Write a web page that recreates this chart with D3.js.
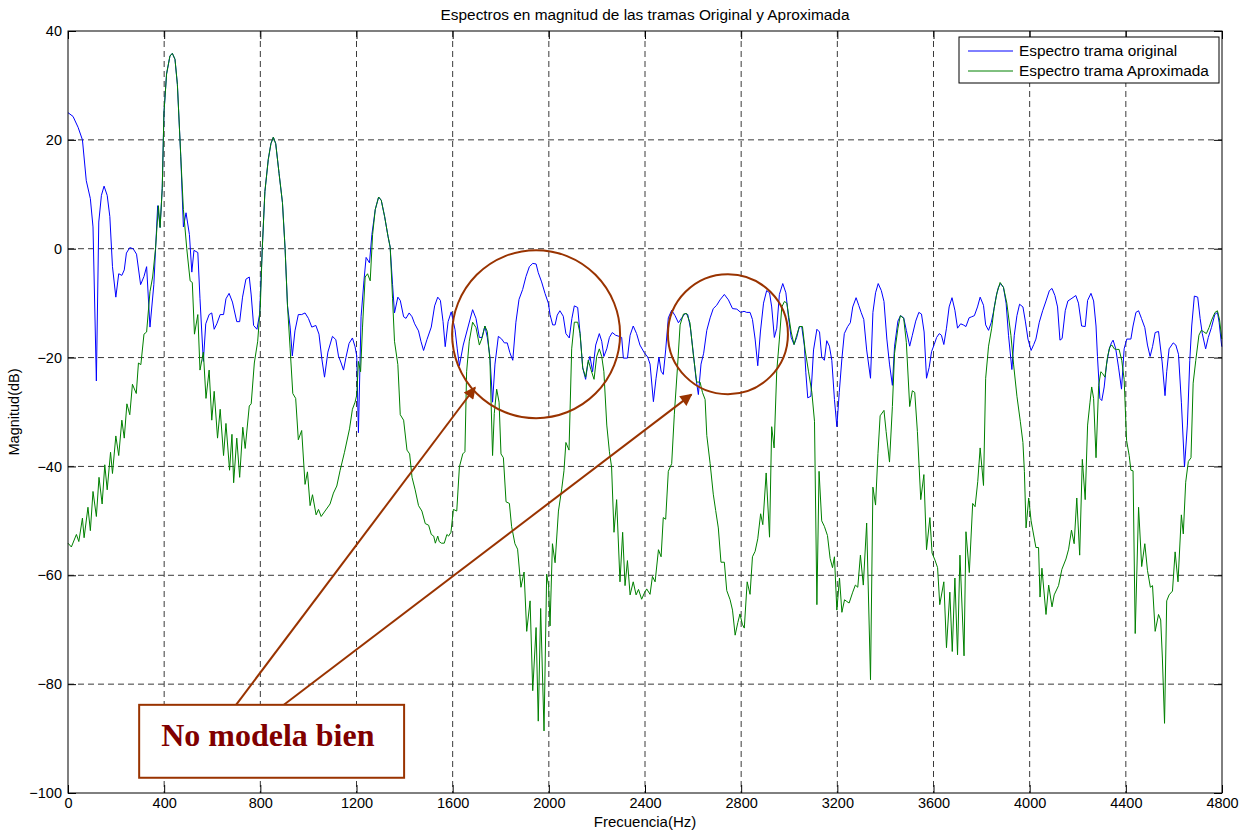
<!DOCTYPE html>
<html>
<head>
<meta charset="utf-8">
<script src="https://cdn.jsdelivr.net/npm/d3@7"></script>
<style>
  body { margin: 0; background: #fff; }
</style>
</head>
<body>
<div id="chart"></div>
<script>
let w = 1250;
let h = 832;
let margin = {left: 68, right: 28, top: 31, bottom: 39};

// tick labels
let xTicks = [0, 400, 800, 1200, 1600, 2000, 2400, 2800, 3200, 3600, 4000, 4400, 4800];
let yTicks = [40, 20, 0, -20, -40, -60, -80, -100];

// [frecuencia Hz, magnitud dB]
let original = [
  [0,25],[21,24.3],[42,22.3],[60,20],[76,12.5],[93,9.2],[104,4],[118,-24.3],[128,4.9],[139,9.8],
  [150,11.5],[163,9.8],[174,5.9],[185,-3.3],[199,-8.9],[211,-4.6],[224,-4.9],[234,-3.9],[243,-0.8],[257,0.2],
  [271,0],[285,-1],[302,-6.6],[316,-5.1],[327,-3.3],[341,-14.4],[357,-6.6],[373,7.9],[383,3.9],[392,11.1],
  [399,24.9],[410,32.1],[424,35.4],[434,35.9],[445,34.8],[455,30.2],[469,17],[480,4],[491,6.6],[505,2.6],
  [515,-4.3],[524,-0.3],[540,-0.7],[549,-9.2],[563,-20.7],[573,-13.8],[587,-12.1],[598,-11.8],[608,-14.8],[619,-13.8],
  [633,-12.1],[647,-12.1],[657,-9.2],[670,-8.2],[684,-9.8],[702,-13.4],[714,-13.4],[726,-8.9],[740,-5.6],[754,-5.2],
  [762,-8.5],[772,-14.1],[786,-14.8],[797,-12],[808,0],[819,10.5],[833,16.4],[844,19.3],[854,20.5],[864,19.3],
  [878,13.8],[892,8.5],[903,0],[913,-10.5],[924,-14.4],[933,-19.7],[944,-15.1],[958,-12.1],[972,-12.1],[986,-11.8],
  [1000,-12.8],[1014,-14.4],[1031,-14.1],[1044,-15.7],[1056,-20.3],[1067,-23.6],[1081,-19],[1100,-16.1],[1114,-16.7],[1125,-19.7],
  [1136,-21],[1146,-22.3],[1156,-20],[1169,-17.4],[1183,-16.4],[1194,-18],[1201,-19.7],[1208,-33.8],[1219,-12.5],[1231,-5.9],
  [1240,-1.6],[1254,-2.6],[1264,2.6],[1278,7.2],[1292,9.5],[1303,8.9],[1317,5.9],[1331,2.3],[1340,0.3],[1350,-6.6],
  [1358,-11.8],[1372,-8.9],[1382,-9.5],[1396,-12.5],[1406,-12.8],[1419,-11.8],[1431,-12.5],[1442,-13.8],[1458,-15.1],[1468,-17],
  [1479,-18.7],[1493,-16.7],[1511,-14.4],[1525,-10.5],[1538,-8.9],[1549,-9.5],[1560,-13.4],[1569,-18],[1581,-13.4],[1594,-11.6],
  [1610,-14.9],[1619,-18.4],[1628,-21.5],[1644,-17.7],[1665,-14.2],[1683,-11.2],[1697,-12.8],[1711,-16.3],[1722,-16.3],[1734,-14.2],
  [1744,-16.3],[1755,-19.8],[1766,-28.2],[1776,-21.2],[1790,-16.1],[1804,-16.6],[1815,-17.3],[1827,-17.3],[1838,-19.1],[1850,-20.5],
  [1863,-13.5],[1876,-9.3],[1891,-7.5],[1905,-5.1],[1919,-3.3],[1933,-2.7],[1947,-2.8],[1956,-4.4],[1970,-6.1],[1984,-8.2],
  [1998,-10],[2005,-12.1],[2016,-14],[2026,-14],[2035,-12.2],[2046,-11.4],[2060,-12.4],[2071,-15.6],[2085,-16.4],[2096,-12.8],
  [2106,-10.5],[2120,-10.8],[2130,-15.6],[2141,-21.9],[2153,-24],[2162,-21.2],[2171,-19.8],[2182,-22.6],[2195,-17.7],[2210,-15.6],
  [2220,-17],[2229,-19.8],[2241,-18.4],[2252,-16.3],[2264,-15.4],[2278,-15.9],[2292,-16.1],[2303,-16.3],[2310,-20.1],[2327,-20.1],
  [2338,-15.9],[2351,-14.2],[2365,-15.6],[2379,-17.7],[2397,-19.1],[2411,-19.9],[2421,-21.2],[2435,-28.1],[2446,-23.8],[2458,-19.9],
  [2467,-22.5],[2476,-23.1],[2486,-18.6],[2497,-12.7],[2511,-11.3],[2525,-12.3],[2539,-13.6],[2553,-12.7],[2567,-11.9],[2578,-12.1],
  [2589,-14.6],[2601,-19.2],[2612,-23.8],[2622,-26.8],[2633,-21.2],[2644,-19.2],[2657,-15],[2671,-12.7],[2684,-11],[2698,-10.4],
  [2712,-9.4],[2730,-8.4],[2747,-9.4],[2764,-11],[2782,-11.1],[2798,-11.7],[2812,-11.5],[2823,-11.7],[2837,-11.7],[2847,-13],
  [2858,-16.6],[2869,-21.5],[2880,-15.3],[2893,-10],[2906,-7.7],[2918,-8.1],[2927,-10.7],[2938,-16.3],[2948,-14.6],[2959,-8.4],
  [2973,-6.4],[2986,-8.1],[2997,-12.7],[3008,-16.3],[3020,-17.6],[3031,-16.3],[3042,-14.3],[3052,-14.3],[3063,-17.9],[3069,-22.8],
  [3077,-27.4],[3090,-27.1],[3101,-18.6],[3115,-14.8],[3126,-15.3],[3135,-19.9],[3146,-20.5],[3156,-16.9],[3167,-17.9],[3177,-20.5],
  [3188,-27.7],[3198,-32.7],[3208,-26.4],[3219,-20.2],[3229,-15.6],[3243,-14.3],[3254,-13.6],[3264,-10.7],[3278,-9],[3289,-10.4],
  [3299,-11.7],[3310,-13],[3322,-18.6],[3338,-23.8],[3348,-11.7],[3359,-8.1],[3370,-6.4],[3383,-7.7],[3394,-9.7],[3406,-16.6],
  [3417,-21.2],[3429,-25.1],[3438,-17.9],[3452,-13.3],[3463,-12.3],[3476,-12.7],[3487,-15],[3501,-17.9],[3512,-15.9],[3526,-13.3],
  [3539,-11.7],[3550,-12],[3561,-15.3],[3571,-23.8],[3582,-21.8],[3592,-18.9],[3603,-17.6],[3613,-16.3],[3624,-15.6],[3633,-15.9],
  [3643,-17.6],[3654,-14.6],[3665,-10.7],[3677,-9],[3689,-11.3],[3700,-14.6],[3713,-13.8],[3724,-14],[3735,-14.3],[3748,-12.7],
  [3759,-12.5],[3770,-12.3],[3783,-10.7],[3794,-8.9],[3808,-10.4],[3817,-14],[3829,-15],[3840,-13.6],[3849,-11.7],[3861,-8.7],
  [3870,-7.1],[3879,-6.4],[3891,-7.1],[3902,-10],[3912,-15.9],[3926,-22.2],[3936,-15.9],[3947,-12.3],[3958,-10.2],[3972,-10.7],
  [3982,-13.3],[3993,-16.6],[4006,-18.7],[4017,-17.6],[4026,-16.6],[4040,-13.5],[4054,-11.4],[4068,-9.6],[4082,-7.7],[4093,-7.3],
  [4105,-8.6],[4116,-10.7],[4126,-16.8],[4135,-16.5],[4148,-11.4],[4159,-9.6],[4176,-9.1],[4192,-8.6],[4203,-10],[4216,-14.2],
  [4231,-14.3],[4241,-9.5],[4255,-8.2],[4266,-9.6],[4276,-14.2],[4282,-19.8],[4292,-27.5],[4300,-27.9],[4310,-25.4],[4320,-21.2],
  [4331,-18.4],[4340,-17.3],[4347,-16.8],[4358,-18.4],[4370,-21.9],[4382,-25.8],[4393,-18.4],[4404,-16.6],[4421,-16.6],[4430,-14.2],
  [4442,-11.7],[4453,-11.4],[4465,-12.8],[4479,-14.5],[4490,-17.7],[4501,-19.8],[4511,-18],[4522,-15.4],[4536,-15.2],[4551,-20.8],
  [4563,-27],[4570,-22.6],[4580,-18.4],[4597,-17.3],[4608,-17.7],[4619,-19.4],[4631,-28.2],[4644,-40.1],[4656,-32.4],[4666,-20.5],
  [4674,-14.2],[4685,-8.7],[4699,-8.9],[4709,-12.8],[4718,-15.6],[4732,-18.4],[4743,-16.3],[4756,-14.5],[4770,-12.1],[4781,-11.7],
  [4788,-13.5],[4799,-18]
];

let aproximada = [
  [0,-54.1],[14,-54.8],[35,-52.5],[45,-53.8],[60,-49.5],[67,-53.1],[83,-47.5],[93,-51.8],[104,-44.6],[118,-49.2],
  [129,-42],[142,-46.9],[153,-39.7],[163,-44.3],[177,-37.4],[185,-41.3],[199,-34.4],[211,-38],[224,-31.5],[234,-34.8],
  [245,-28.5],[257,-30.5],[268,-24.9],[284,-26.6],[293,-21],[303,-21.3],[316,-15.7],[327,-15.3],[341,-7.9],[352,-5.2],
  [364,0],[376,7.9],[383,3.9],[392,11.1],[399,24.9],[410,32.1],[424,35.4],[434,35.9],[445,34.8],[455,30.2],
  [469,17],[480,7.2],[494,0],[508,-5.9],[517,-6.2],[526,-15.7],[540,-12.1],[549,-22.3],[563,-19],[574,-27.5],
  [587,-22.3],[598,-31.5],[608,-26.2],[622,-34.8],[633,-29.5],[647,-38],[657,-32.1],[672,-40.7],[682,-34.1],[689,-43],
  [702,-34.8],[714,-42],[727,-32.8],[737,-36.7],[754,-28.9],[762,-28.5],[775,-21],[789,-17],[800,-10.5],[808,0],
  [819,10.5],[833,16.4],[844,19.3],[854,20.5],[864,19.3],[878,13.8],[892,8.5],[903,0],[913,-10.5],[924,-18.4],
  [935,-26.6],[947,-27.5],[958,-35.1],[972,-33.4],[986,-43.3],[996,-41],[1007,-47.2],[1017,-45.2],[1032,-48.9],[1042,-47.9],
  [1053,-49.2],[1069,-48.2],[1090,-46.9],[1104,-44.9],[1118,-43.6],[1132,-40.7],[1150,-37.4],[1171,-33.1],[1183,-29.5],[1194,-28.2],
  [1201,-26.9],[1208,-20.7],[1217,-22.6],[1225,-14.4],[1236,-5.2],[1246,-4.6],[1257,-5.9],[1267,2.6],[1278,7.2],[1292,9.5],
  [1303,8.9],[1317,5.9],[1331,2.3],[1340,0.3],[1350,-9.2],[1358,-17],[1372,-21.3],[1382,-30.5],[1396,-31.5],[1410,-37],
  [1421,-37.7],[1431,-42],[1444,-44.3],[1458,-47.2],[1472,-48.2],[1486,-50.5],[1500,-50.8],[1511,-52.5],[1521,-52.8],[1528,-54.1],
  [1538,-52.8],[1544,-53.8],[1553,-54.1],[1565,-54.1],[1576,-52.5],[1583,-52.8],[1593,-52.1],[1603,-47.9],[1617,-48.2],[1628,-40.1],
  [1642,-37.7],[1651,-37.3],[1658,-22.6],[1669,-17],[1683,-13.5],[1697,-14.5],[1711,-17.7],[1723,-16.3],[1734,-14.2],[1744,-15.2],
  [1755,-20.5],[1766,-38],[1773,-30.3],[1783,-25.8],[1793,-28.2],[1801,-37.7],[1811,-38.4],[1822,-46.5],[1836,-46.8],[1845,-51],
  [1859,-54.2],[1870,-55.2],[1884,-62.2],[1897,-59.4],[1908,-70.3],[1922,-64.7],[1933,-81.2],[1947,-69.6],[1956,-86.8],[1966,-66.1],
  [1980,-88.6],[1991,-59.8],[1999,-61.9],[2005,-69.3],[2015,-54.2],[2026,-57.7],[2040,-48.2],[2054,-44],[2063,-40.8],[2071,-35.6],
  [2084,-37],[2095,-18.4],[2106,-13.5],[2120,-13.5],[2130,-15.6],[2141,-21.9],[2153,-23.6],[2164,-20.5],[2175,-22.2],[2188,-24],
  [2199,-19.8],[2210,-18.4],[2220,-19.8],[2229,-22.6],[2241,-32.4],[2252,-37.3],[2261,-40.1],[2271,-52.1],[2282,-46.1],[2296,-61.2],
  [2307,-52.1],[2317,-61.9],[2327,-57.3],[2338,-63.6],[2351,-61.2],[2363,-63.6],[2373,-62.6],[2386,-64.4],[2397,-63.3],[2407,-62.5],
  [2421,-63.5],[2431,-60.2],[2442,-61.2],[2456,-55.3],[2467,-56.6],[2476,-49.4],[2486,-49.7],[2497,-40.9],[2511,-39.5],[2522,-30.4],
  [2536,-21.2],[2546,-14],[2560,-12],[2573,-11.9],[2587,-13.6],[2601,-19.5],[2615,-24.5],[2629,-24.5],[2639,-26.4],[2650,-27.7],
  [2657,-34.3],[2671,-39.5],[2684,-45.1],[2694,-48.1],[2705,-51.3],[2716,-57.6],[2730,-57.6],[2740,-62.8],[2754,-64.5],[2764,-66.4],
  [2775,-71],[2786,-68.7],[2795,-67.1],[2805,-69],[2813,-69.7],[2825,-61.2],[2837,-63.5],[2847,-56.6],[2858,-55.6],[2869,-53.3],
  [2881,-48.7],[2890,-50.7],[2904,-41.2],[2918,-53],[2927,-32.7],[2937,-36.6],[2948,-22.5],[2959,-16.6],[2969,-10.7],[2980,-9.7],
  [2990,-10],[2999,-12.7],[3008,-15.3],[3020,-17.6],[3031,-15.9],[3042,-14.3],[3055,-14.3],[3066,-18.6],[3080,-22.5],[3094,-26.4],
  [3105,-31.7],[3115,-65.4],[3124,-40.9],[3135,-50],[3146,-51],[3159,-52.7],[3170,-56.9],[3180,-58.6],[3188,-56.6],[3198,-66.4],
  [3209,-60.5],[3219,-66.8],[3230,-64.5],[3239,-64.8],[3249,-65.1],[3264,-63.1],[3275,-61.8],[3285,-62.2],[3296,-56.3],[3308,-61.8],
  [3322,-50.4],[3338,-79.2],[3348,-43.8],[3359,-47.1],[3369,-37.6],[3378,-30.7],[3394,-29.7],[3403,-33.6],[3417,-39.2],[3429,-29],
  [3438,-19.2],[3452,-14.6],[3462,-12.3],[3476,-12.8],[3487,-17.2],[3501,-29],[3512,-26.1],[3522,-26.4],[3533,-33.6],[3547,-46.1],
  [3560,-41.5],[3571,-55.3],[3585,-49.4],[3594,-55.9],[3606,-57.2],[3617,-58.6],[3626,-65.4],[3643,-61.2],[3654,-73.3],[3668,-63.1],
  [3678,-74],[3689,-60.5],[3700,-74.6],[3710,-56.3],[3727,-74.8],[3735,-52],[3749,-59.5],[3763,-46.8],[3773,-47.4],[3784,-42.8],
  [3794,-36.6],[3808,-43.5],[3817,-23.8],[3829,-17.9],[3842,-14.6],[3852,-11],[3864,-8.1],[3877,-6.2],[3891,-7.1],[3905,-10],
  [3922,-15.9],[3933,-21.2],[3947,-27.1],[3961,-31.7],[3972,-35.6],[3978,-40.9],[3985,-51.3],[3996,-45.8],[4006,-50],[4026,-54.9],
  [4037,-54.9],[4043,-64],[4051,-58.7],[4068,-67.2],[4079,-61.8],[4093,-65.8],[4102,-63.6],[4120,-61.9],[4134,-58.9],[4151,-57],
  [4162,-55.2],[4174,-51.7],[4185,-54.2],[4196,-45.8],[4208,-56.3],[4219,-38.7],[4231,-46.1],[4241,-32.4],[4251,-28.2],[4258,-25.4],
  [4266,-27.5],[4276,-38.4],[4287,-25.1],[4296,-22.6],[4303,-22.9],[4313,-23.6],[4324,-19.8],[4334,-18],[4342,-17.7],[4352,-18.4],
  [4361,-18.5],[4372,-18.5],[4383,-20.5],[4393,-24],[4403,-35.2],[4414,-38],[4421,-40.7],[4430,-40.8],[4439,-70.7],[4453,-47.5],
  [4466,-58.4],[4479,-54.2],[4490,-59.1],[4502,-62.2],[4511,-61.9],[4522,-70.3],[4536,-67.2],[4545,-68.2],[4552,-75.2],[4561,-87.2],
  [4570,-64.7],[4580,-63.6],[4594,-62.9],[4605,-55.7],[4617,-61.2],[4631,-48.9],[4639,-52.4],[4649,-42.9],[4660,-39.1],[4671,-38.4],
  [4680,-24.7],[4691,-20.5],[4704,-15.9],[4714,-15],[4722,-15.2],[4735,-15.6],[4746,-14.5],[4757,-13.1],[4771,-11.7],[4781,-11.4],
  [4790,-13.1],[4799,-16.6]
];

let seriesNames = ["Espectro trama original", "Espectro trama Aproximada"];
let seriesColors = ["#0000ff", "#008000"];

// annotation: circles (centre in Hz / dB, radius px), arrows, label box
let circles = [[1947, -15.7, 84], [2745, -15.7, 60]];
let arrows = [[699, -83.8, 1693, -25.5], [898, -83.8, 2593, -26.8]];
let noteBox = [296, -83.8, 1398, -97.2];
let noteText = "No modela bien";
let brown = "#993300";
let sans = "'Liberation Sans', Arial, sans-serif";

let viz = d3.select("#chart")
  .append("svg")
  .attr("width", w)
  .attr("height", h)
  .style("background-color", "white")
  .style("font-family", sans);

let xScale = d3.scaleLinear().domain([0, 4800]).range([margin.left, w - margin.right]);
let yScale = d3.scaleLinear().domain([-100, 40]).range([h - margin.bottom, margin.top]);

// grid
let grid = viz.append("g").attr("class", "grid");
grid.selectAll(".gx").data(xTicks.slice(1, -1)).enter()
  .append("line")
  .attr("x1", d => xScale(d)).attr("x2", d => xScale(d))
  .attr("y1", yScale(40)).attr("y2", yScale(-100))
  .attr("stroke", "#3a3a3a").attr("stroke-dasharray", "6,4").attr("stroke-width", 1);
grid.selectAll(".gy").data(yTicks.slice(1, -1)).enter()
  .append("line")
  .attr("y1", d => yScale(d)).attr("y2", d => yScale(d))
  .attr("x1", xScale(0)).attr("x2", xScale(4800))
  .attr("stroke", "#3a3a3a").attr("stroke-dasharray", "6,4").attr("stroke-width", 1);

// axes with inward ticks on all sides
let fmt = d3.format("d");
let xAxis = d3.axisBottom(xScale).tickValues(xTicks).tickFormat(fmt).tickSizeInner(-8).tickSizeOuter(0).tickPadding(5);
let yAxis = d3.axisLeft(yScale).tickValues(yTicks).tickFormat(fmt).tickSizeInner(-8).tickSizeOuter(0).tickPadding(6);
let xTop = d3.axisTop(xScale).tickValues(xTicks).tickSizeInner(-8).tickSizeOuter(0).tickFormat("");
let yRight = d3.axisRight(yScale).tickValues(yTicks).tickSizeInner(-8).tickSizeOuter(0).tickFormat("");

viz.append("g").attr("transform", `translate(0,${yScale(-100)})`).call(xAxis);
viz.append("g").attr("transform", `translate(${xScale(0)},0)`).call(yAxis);
viz.append("g").attr("transform", `translate(0,${yScale(40)})`).call(xTop);
viz.append("g").attr("transform", `translate(${xScale(4800)},0)`).call(yRight);

viz.selectAll(".tick text").attr("fill", "#000")
  .style("font-size", "14.5px").style("font-family", sans);
viz.selectAll(".tick line").attr("stroke", "#000");
viz.selectAll(".domain").remove();

// lines
let line = d3.line().x(d => xScale(d[0])).y(d => yScale(d[1]));
[original, aproximada].forEach((s, i) => {
  viz.append("path").datum(s)
    .attr("d", line)
    .attr("fill", "none")
    .attr("stroke", seriesColors[i])
    .attr("stroke-width", 1)
    .attr("stroke-linejoin", "round");
});

// box
viz.append("rect")
  .attr("x", xScale(0)).attr("y", yScale(40))
  .attr("width", xScale(4800) - xScale(0)).attr("height", yScale(-100) - yScale(40))
  .attr("fill", "none").attr("stroke", "#000").attr("stroke-width", 1);

// title and axis labels
viz.append("text").attr("x", (xScale(0) + xScale(4800)) / 2).attr("y", 20)
  .attr("text-anchor", "middle").style("font-size", "15.4px")
  .text("Espectros en magnitud de las tramas Original y Aproximada");
viz.append("text").attr("x", (xScale(0) + xScale(4800)) / 2).attr("y", 827)
  .attr("text-anchor", "middle").style("font-size", "15px")
  .text("Frecuencia(Hz)");
viz.append("text").attr("transform", `translate(19,${(yScale(40) + yScale(-100)) / 2}) rotate(-90)`)
  .attr("text-anchor", "middle").style("font-size", "14.5px")
  .text("Magnitud(dB)");

// legend
let legend = viz.append("g").attr("transform", "translate(959,37)");
legend.append("rect").attr("width", 260).attr("height", 46)
  .attr("fill", "white").attr("stroke", "#000");
seriesNames.forEach((n, i) => {
  legend.append("line").attr("x1", 9).attr("x2", 54)
    .attr("y1", 14 + i * 20).attr("y2", 14 + i * 20)
    .attr("stroke", seriesColors[i]);
  legend.append("text").attr("x", 60).attr("y", 19 + i * 20)
    .style("font-size", "15.4px").text(n);
});

// annotations
let defs = viz.append("defs");
defs.append("marker").attr("id", "head")
  .attr("viewBox", "0 0 10 10").attr("refX", 9).attr("refY", 5)
  .attr("markerWidth", 7).attr("markerHeight", 6).attr("orient", "auto")
  .attr("markerUnits", "strokeWidth")
  .append("path").attr("d", "M0,0 L10,5 L0,10 z").attr("fill", brown);

viz.selectAll(".circ").data(circles).enter()
  .append("circle")
  .attr("cx", d => xScale(d[0])).attr("cy", d => yScale(d[1])).attr("r", d => d[2])
  .attr("fill", "none").attr("stroke", brown).attr("stroke-width", 2);

viz.selectAll(".arrow").data(arrows).enter()
  .append("line")
  .attr("x1", d => xScale(d[0])).attr("y1", d => yScale(d[1]))
  .attr("x2", d => xScale(d[2])).attr("y2", d => yScale(d[3]))
  .attr("stroke", brown).attr("stroke-width", 2)
  .attr("marker-end", "url(#head)");

viz.append("rect")
  .attr("x", xScale(noteBox[0])).attr("y", yScale(noteBox[1]))
  .attr("width", xScale(noteBox[2]) - xScale(noteBox[0]))
  .attr("height", yScale(noteBox[3]) - yScale(noteBox[1]))
  .attr("fill", "white").attr("stroke", brown).attr("stroke-width", 2);

viz.append("text")
  .attr("x", xScale(noteBox[0]) + 22)
  .attr("y", yScale(noteBox[1]) + 41)
  .style("font-family", "'Liberation Serif', 'Times New Roman', serif")
  .style("font-weight", "bold").style("font-size", "32px").attr("fill", "#800000")
  .text(noteText);
</script>
</body>
</html>
